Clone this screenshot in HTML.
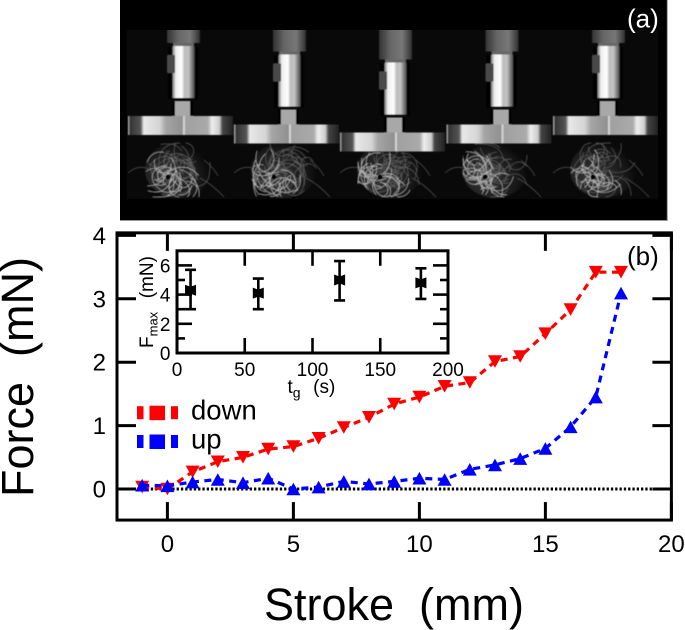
<!DOCTYPE html>
<html>
<head>
<meta charset="utf-8">
<title>Force vs stroke</title>
<style>
html,body{margin:0;padding:0;background:#fff;}
#fig{display:block;position:absolute;left:0;top:0;}
text{font-family:"Liberation Sans",Arial,sans-serif;fill:#000;}
</style>
</head>
<body>
<svg id="fig" width="685" height="630" viewBox="0 0 685 630" xmlns="http://www.w3.org/2000/svg">
<defs>
  <linearGradient id="cyl" x1="0" x2="1" y1="0" y2="0">
    <stop offset="0" stop-color="#777"/><stop offset=".15" stop-color="#eee"/><stop offset=".42" stop-color="#fff"/>
    <stop offset=".55" stop-color="#bbb"/><stop offset=".72" stop-color="#c4c4c4"/><stop offset="1" stop-color="#4a4a4a"/>
  </linearGradient>
  <linearGradient id="head" x1="0" x2="1" y1="0" y2="0">
    <stop offset="0" stop-color="#333"/><stop offset=".35" stop-color="#666"/><stop offset=".7" stop-color="#777"/><stop offset="1" stop-color="#303030"/>
  </linearGradient>
  <linearGradient id="plate" x1="0" x2="1" y1="0" y2="0">
    <stop offset="0" stop-color="#ccc"/><stop offset=".02" stop-color="#333"/><stop offset=".12" stop-color="#555"/>
    <stop offset=".15" stop-color="#e8e8e8"/><stop offset=".3" stop-color="#d5d5d5"/><stop offset=".36" stop-color="#a5a5a5"/>
    <stop offset=".52" stop-color="#909090"/><stop offset=".53" stop-color="#e5e5e5"/><stop offset=".55" stop-color="#a0a0a0"/>
    <stop offset=".76" stop-color="#aaa"/><stop offset=".8" stop-color="#eee"/><stop offset=".87" stop-color="#ccc"/><stop offset=".9" stop-color="#444"/><stop offset="1" stop-color="#222"/>
  </linearGradient>
  <radialGradient id="glow" cx=".35" cy=".62" r=".65">
    <stop offset="0" stop-color="#aaa" stop-opacity=".3"/><stop offset=".7" stop-color="#888" stop-opacity=".14"/><stop offset="1" stop-color="#888" stop-opacity="0"/>
  </radialGradient>
  <filter id="soft" x="-5%" y="-5%" width="110%" height="110%"><feGaussianBlur stdDeviation="0.5"/></filter>
  <clipPath id="photo-clip"><rect x="127" y="30" width="531" height="169"/></clipPath>
</defs>

<g>
  <rect x="120" y="0" width="547" height="220.5" fill="#000"/>
  <path d="M120 220.5H667.3V0" fill="none" stroke="#999" stroke-width="1"/>
  <rect x="127" y="30" width="531" height="169" fill="#090909"/>
  <g id="photo-frames" clip-path="url(#photo-clip)" filter="url(#soft)"></g>
  <text x="627" y="27.5" font-size="26" style="fill:#fff">(a)</text>
</g>

<g id="chart"></g>
<g id="inset"></g>
</svg>

<script>
// ---------- Chart data ----------
var strokeDown = [-1,0,1,2,3,4,5,6,7,8,9,10,11,12,13,14,15,16,17,18];
var forceDown = [0.03,0,0.27,0.43,0.5,0.63,0.67,0.8,0.97,1.13,1.34,1.45,1.62,1.68,2.01,2.09,2.45,2.83,3.42,3.42];
var strokeUp = [-1,0,1,2,3,4,5,6,7,8,9,10,11,12,13,14,15,16,17,18];
var forceUp = [0.06,0.05,0.11,0.15,0.1,0.17,0,0.03,0.12,0.08,0.12,0.17,0.15,0.31,0.38,0.48,0.64,0.98,1.45,3.09];
var xTicks = [0,5,10,15,20];
var yTicks = [0,1,2,3,4];
var insetTime = [10,60,120,180];
var insetForce = [4.3,4.1,5.0,4.8];
var insetErrLow = [3.0,3.0,3.6,3.7];
var insetErrHigh = [5.7,5.1,6.3,5.8];
var insetXTicks = [0,50,100,150,200];
var insetYMajor = [0,2,4,6];
var insetYMinor = [1,3,5];

var NS = 'http://www.w3.org/2000/svg';
function mk(parent, tag, attrs, txt) {
  var e = document.createElementNS(NS, tag);
  for (var k in attrs) e.setAttribute(k, attrs[k]);
  if (txt !== undefined) e.textContent = txt;
  parent.appendChild(e);
  return e;
}
function X(v) { return 167.4 + v * 25.2; }
function Y(v) { return 489 - v * 63.4; }
function IX(v) { return 177 + v * 1.355; }
function IY(v) { return 353 - v * 14.6; }

var chart = document.getElementById('chart');
var inset = document.getElementById('inset');
var R = X(20), T = Y(4.04), B = Y(-0.49);

// main axes
var frame = mk(chart, 'rect', {x: 117, y: T, width: R - 117, height: B - T, fill: 'none', stroke: '#000', 'stroke-width': 3});



xTicks.forEach(function (t) {
  var tb = mk(chart, 'line', {x1: X(t), x2: X(t), y1: B, y2: B - 18, stroke: '#000', 'stroke-width': 3});
  
  
  var tt = mk(chart, 'line', {x1: X(t), x2: X(t), y1: T, y2: T + 18, stroke: '#000', 'stroke-width': 3});
  
  
  var lb = mk(chart, 'text', {x: X(t), y: 552, 'font-size': 24, 'text-anchor': 'middle'}, String(t));
  
  
});
yTicks.forEach(function (t) {
  var tl = mk(chart, 'line', {x1: 117, x2: 136, y1: Y(t), y2: Y(t), stroke: '#000', 'stroke-width': 3});
  
  
  var tr = mk(chart, 'line', {x1: R, x2: R - 19, y1: Y(t), y2: Y(t), stroke: '#000', 'stroke-width': 3});
  
  
  var lb = mk(chart, 'text', {x: 106, y: Y(t) + 8.5, 'font-size': 24, 'text-anchor': 'end'}, String(t));
  
  
});

var xt = mk(chart, 'text', {x: 394, y: 620, 'font-size': 45, 'text-anchor': 'middle', style: 'white-space:pre'}, 'Stroke  (mm)');


var yt = mk(chart, 'text', {x: 0, y: 0, 'font-size': 45, 'text-anchor': 'middle', transform: 'translate(33,377) rotate(-90)', style: 'white-space:pre'}, 'Force  (mN)');


var pb = mk(chart, 'text', {x: 627, y: 265, 'font-size': 26}, '(b)');



// zero reference line
var zero = mk(chart, 'line', {x1: X(-1), x2: R - 3, y1: Y(0), y2: Y(0), stroke: '#000', 'stroke-width': 3, 'stroke-dasharray': '2.3 2'});



function tri(cx, cy, down) {
  var w = 7, h = down ? 6.3 : -6.3;
  return (cx - w) + ',' + (cy - h) + ' ' + (cx + w) + ',' + (cy - h) + ' ' + cx + ',' + (cy + h);
}
function linePts(xs, ys) {
  return xs.map(function (x, i) { return X(x) + ',' + Y(ys[i]); }).join(' ');
}

// down series
var gDown = mk(chart, 'g', {});


var lineDown = mk(gDown, 'polyline', {points: linePts(strokeDown, forceDown), fill: 'none', stroke: '#f00', 'stroke-width': 3.2, 'stroke-dasharray': '7 5.5'});


strokeDown.forEach(function (x, i) {
  var p = mk(gDown, 'polygon', {points: tri(X(x), Y(forceDown[i]), true), fill: '#f00'});
  
  
});

// up series
var gUp = mk(chart, 'g', {});


var lineUp = mk(gUp, 'polyline', {points: linePts(strokeUp, forceUp), fill: 'none', stroke: '#00f', 'stroke-width': 3.2, 'stroke-dasharray': '7 5.5'});


strokeUp.forEach(function (x, i) {
  var p = mk(gUp, 'polygon', {points: tri(X(x), Y(forceUp[i]), false), fill: '#00f'});
  
  
});

// legend
function legend(y, col, label, by) {
  var g = mk(chart, 'g', {});
  
  
  var a = mk(g, 'rect', {x: 137, y: y - 6.5, width: 6.5, height: 13, fill: col});
  
  
  var b = mk(g, 'rect', {x: 149.5, y: y - 7, width: 15.5, height: 14.5, fill: col});
  
  
  var c = mk(g, 'rect', {x: 171, y: y - 6.5, width: 7, height: 13, fill: col});
  
  
  var t = mk(g, 'text', {x: 191, y: by, 'font-size': 27.5}, label);
  
  
}
legend(412.7, '#f00', 'down', 419.5);
legend(441.5, '#00f', 'up', 448.5);

// ---------- inset ----------
var iL = IX(0), iR = IX(200), iT = IY(7), iB = IY(0);
var ibg = mk(inset, 'rect', {x: iL, y: iT, width: iR - iL, height: iB - iT, fill: '#fff', stroke: '#000', 'stroke-width': 3});



insetXTicks.forEach(function (t) {
  if (t !== 0 && t !== 200) {
    var a = mk(inset, 'line', {x1: IX(t), x2: IX(t), y1: iB, y2: iB - 15, stroke: '#000', 'stroke-width': 2.6});
    
    
    var b = mk(inset, 'line', {x1: IX(t), x2: IX(t), y1: iT, y2: iT + 15, stroke: '#000', 'stroke-width': 2.6});
    
    
  }
  var lb = mk(inset, 'text', {x: IX(t), y: 376, 'font-size': 19, 'text-anchor': 'middle'}, String(t));
  
  
});
insetYMajor.forEach(function (t) {
  if (t !== 0) {
    var a = mk(inset, 'line', {x1: iL, x2: iL + 15, y1: IY(t), y2: IY(t), stroke: '#000', 'stroke-width': 2.6});
    
    
    var b = mk(inset, 'line', {x1: iR, x2: iR - 15, y1: IY(t), y2: IY(t), stroke: '#000', 'stroke-width': 2.6});
    
    
  }
  var lb = mk(inset, 'text', {x: 170.5, y: IY(t) + 7, 'font-size': 19, 'text-anchor': 'end'}, String(t));
  
  
});
insetYMinor.forEach(function (t) {
  var a = mk(inset, 'line', {x1: iL, x2: iL + 8, y1: IY(t), y2: IY(t), stroke: '#000', 'stroke-width': 2.6});
  
  
  var b = mk(inset, 'line', {x1: iR, x2: iR - 8, y1: IY(t), y2: IY(t), stroke: '#000', 'stroke-width': 2.6});
  
  
});

insetTime.forEach(function (t, i) {
  var cx = IX(t), cy = IY(insetForce[i]);
  var g = mk(inset, 'g', {});
  
  
  var d = 'M' + cx + ' ' + IY(insetErrLow[i]) + 'V' + IY(insetErrHigh[i]) +
    'M' + (cx - 5.5) + ' ' + IY(insetErrLow[i]) + 'h11M' + (cx - 5.5) + ' ' + IY(insetErrHigh[i]) + 'h11';
  var eb = mk(g, 'path', {d: d, fill: 'none', stroke: '#000', 'stroke-width': 2.6});
  
  
  var m = mk(g, 'path', {d: 'M' + (cx - 5.5) + ' ' + (cy - 5.5) + 'L' + cx + ' ' + (cy - 3.5) + 'L' + (cx + 5.5) + ' ' + (cy - 5.5) + 'V' + (cy + 5.5) + 'L' + cx + ' ' + (cy + 3.5) + 'L' + (cx - 5.5) + ' ' + (cy + 5.5) + 'Z', fill: '#000'});
  
  
});

var ixt = mk(inset, 'text', {x: 287.5, y: 393, 'font-size': 19, style: 'white-space:pre'});


mk(ixt, 'tspan', {}, 't');
mk(ixt, 'tspan', {dy: 4.5, 'font-size': 14}, 'g');
mk(ixt, 'tspan', {dy: -4.5, dx: 2}, '  (s)');

var iyt = mk(inset, 'text', {x: 0, y: 0, 'font-size': 19, transform: 'translate(153,348) rotate(-90)', style: 'white-space:pre'});


mk(iyt, 'tspan', {}, 'F');
mk(iyt, 'tspan', {dy: 4.5, 'font-size': 13}, 'max');
mk(iyt, 'tspan', {dy: -4.5, dx: 3}, '  (mN)');
</script>

<script>
// ---------- Photograph approximation (texture only, not chart data) ----------
(function () {
  var NS = 'http://www.w3.org/2000/svg';
  var root = document.getElementById('photo-frames');
  function mk(p, tag, a) {
    var e = document.createElementNS(NS, tag);
    for (var k in a) e.setAttribute(k, a[k]);
    p.appendChild(e);
    return e;
  }
  var seed = 4242;
  function rnd() { seed = (seed * 1103515245 + 12345) & 0x7fffffff; return seed / 0x7fffffff; }
  // small overlapping curls scattered inside the tangle
  function curls(cx, cy, rx, ry, n, a0, a1, rMin, rMax) {
    var d = '';
    for (var i = 0; i < n; i++) {
      var a = a0 + rnd() * (a1 - a0), r = rMin + rnd() * (rMax - rMin);
      var ox = cx + Math.cos(a) * rx * r, oy = cy + Math.sin(a) * ry * r;
      var loop = 7 + rnd() * 11, st = rnd() * 6.28, sweep = 1.6 + rnd() * 2.4, s = '';
      for (var j = 0; j <= 3; j++) {
        var t = st + sweep * j / 3;
        var px = ox + Math.cos(t) * loop, py = oy + Math.sin(t) * loop;
        px = Math.max(cx - rx, Math.min(cx + rx, px));
        py = Math.max(cy - ry, Math.min(cy + ry, py));
        s += (j === 0 ? 'M' : (j === 1 ? 'C' : ' ')) + px.toFixed(1) + ' ' + py.toFixed(1);
      }
      d += s;
    }
    return d;
  }
  var shifts = [[0, 0], [106, 8.5], [212, 16.5], [318.5, 8.5], [425, 0]];
  var ballX = [178, 284, 390, 495, 603];
  shifts.forEach(function (s, i) {
    var dx = s[0], dy = s[1];
    var g = mk(root, 'g', {});
    
    
    var bx = ballX[i], by = 170;
    var glowE = mk(g, 'ellipse', {cx: bx, cy: by, rx: 33, ry: 28, fill: 'url(#glow)'});
    
    
    var dim = mk(g, 'path', {d: curls(bx, by, 32, 27, 36, 0, 6.28, 0.1, 0.8), fill: 'none', stroke: '#5e5e5e', 'stroke-width': 0.7});
    
    
    var bright = mk(g, 'path', {d: curls(bx - 2, by + 1, 30, 26, 26, 1.0, 3.8, 0.35, 0.85), fill: 'none', stroke: '#b0b0b0', 'stroke-width': 0.8});
    
    
    var hairs = mk(g, 'path', {d: 'M' + (bx - 50) + ' 173Q' + (bx - 38) + ' 162 ' + (bx - 24) + ' 172M' + (bx + 22) + ' 178Q' + (bx + 34) + ' 184 ' + (bx + 46) + ' 197M' + (bx + 26) + ' 160Q' + (bx + 36) + ' 168 ' + (bx + 40) + ' 176', fill: 'none', stroke: '#555', 'stroke-width': 0.7});
    
    
    var hole = mk(g, 'circle', {cx: bx - 10, cy: 177, r: 2.6, fill: '#050505'});
    
    
    var t = 'translate(' + dx + ',' + dy + ')';
    var tool = mk(g, 'g', {transform: t});
    
    
    mk(tool, 'rect', {x: 167, y: 10, width: 33, height: 33, fill: 'url(#head)'});
    mk(tool, 'rect', {x: 173, y: 43, width: 21, height: 4, fill: '#666'});
    mk(tool, 'rect', {x: 168, y: 47, width: 30, height: 52, fill: '#000'});
    mk(tool, 'rect', {x: 172.5, y: 46, width: 22, height: 52, fill: 'url(#cyl)'});
    mk(tool, 'rect', {x: 167, y: 55, width: 8, height: 18, rx: 1, fill: '#4a4a4a'});
    mk(tool, 'rect', {x: 172, y: 101, width: 21, height: 15, fill: '#000'});
    mk(tool, 'rect', {x: 175, y: 101, width: 15, height: 15, fill: '#a8a8a8'});
    mk(tool, 'rect', {x: 128, y: 116, width: 105, height: 19, fill: 'url(#plate)'});
  });
})();
</script>
</body>
</html>
